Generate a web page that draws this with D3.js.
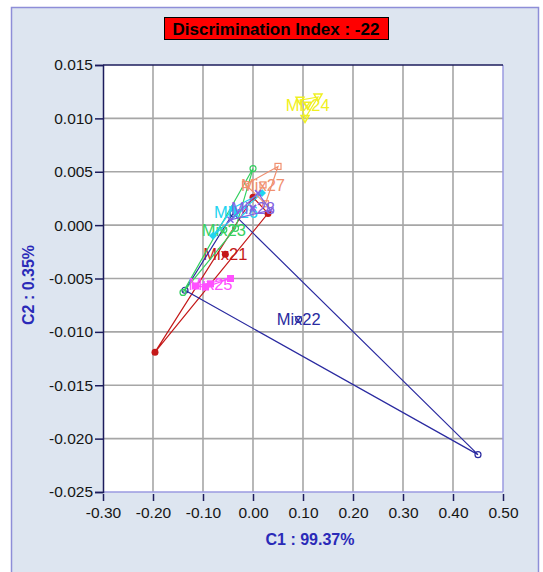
<!DOCTYPE html>
<html>
<head>
<meta charset="utf-8">
<script src="https://cdn.jsdelivr.net/npm/d3@7"></script>
<style>
  body { margin: 0; background: #ffffff; }
  text { font-family: "Liberation Sans", Arial, sans-serif; }
</style>
</head>
<body>
<script>
// chart values
var titleText = "Discrimination Index : -22"
var xTitle = "C1 : 99.37%"
var yTitle = "C2 : 0.35%"
var xTicks = [-0.30, -0.20, -0.10, 0.00, 0.10, 0.20, 0.30, 0.40, 0.50]
var yTicks = [0.015, 0.010, 0.005, 0.000, -0.005, -0.010, -0.015, -0.020, -0.025]

var groupNames = ["Mix21", "Mix22", "Mix23", "Mix24", "Mix25", "Mix26", "Mix27", "Mix28"]
var groupColors = ["#c41818", "#2a2aa0", "#34d060", "#f0f020", "#ff50ff", "#22d4f0", "#f09070", "#8262e2"]
var groupMarkers = ["dot", "ring", "ring", "tri", "sq", "diamond", "opensq", "cross"]
// three replicate points per group: [C1, C2]
var mix21 = [[-0.196, -0.0119], [0.030, 0.0011], [0.000, 0.0026]]
var mix22 = [[0.450, -0.0215], [-0.136, -0.0061], [-0.040, 0.0011]]
var mix23 = [[0.000, 0.0053], [-0.140, -0.0063], [-0.035, -0.0003]]
var mix24 = [[0.104, 0.0100], [0.094, 0.0117], [0.130, 0.0120]]
var mix25 = [[-0.115, -0.0057], [-0.045, -0.0050], [-0.095, -0.0058]]
var mix26 = [[0.018, 0.0030], [-0.080, -0.0010], [-0.040, 0.0016]]
var mix27 = [[0.050, 0.0055], [-0.015, 0.0038], [0.025, 0.0020]]
var mix28 = [[0.010, 0.0030], [-0.045, 0.0005], [0.035, 0.0014]]
var groupPoints = [mix21, mix22, mix23, mix24, mix25, mix26, mix27, mix28]

function drawMarker(g, kind, cx, cy, color) {
  if (kind == "dot") {
    g.append("circle").attr("cx", cx).attr("cy", cy).attr("r", 3.5).attr("fill", color)
  } else if (kind == "ring") {
    g.append("circle").attr("cx", cx).attr("cy", cy).attr("r", 3).attr("fill", "none")
      .attr("stroke", color).attr("stroke-width", 1.2)
  } else if (kind == "sq") {
    g.append("rect").attr("x", cx - 3.5).attr("y", cy - 3.5).attr("width", 7).attr("height", 7).attr("fill", color)
  } else if (kind == "opensq") {
    g.append("rect").attr("x", cx - 3).attr("y", cy - 3).attr("width", 6).attr("height", 6)
      .attr("fill", "none").attr("stroke", color).attr("stroke-width", 1.2)
  } else if (kind == "tri") {
    g.append("path").attr("d", "M" + (cx - 4) + "," + (cy - 3) + "L" + (cx + 4) + "," + (cy - 3) + "L" + cx + "," + (cy + 4) + "Z")
      .attr("fill", "none").attr("stroke", color).attr("stroke-width", 1.5)
  } else if (kind == "diamond") {
    g.append("path").attr("d", "M" + cx + "," + (cy - 4) + "L" + (cx + 4) + "," + cy + "L" + cx + "," + (cy + 4) + "L" + (cx - 4) + "," + cy + "Z")
      .attr("fill", color)
  } else {
    g.append("path").attr("d", "M" + (cx - 3) + "," + (cy - 3) + "L" + (cx + 3) + "," + (cy + 3) + "M" + (cx + 3) + "," + (cy - 3) + "L" + (cx - 3) + "," + (cy + 3))
      .attr("stroke", color).attr("stroke-width", 1.5)
  }
}

function hyphen(fmt) {
  var f = d3.format(fmt)
  return function(d) { return f(d).replace("\u2212", "-") }
}

function main() {
  var width = 543, height = 572
  var svg = d3.select("body").append("svg").attr("width", width).attr("height", height)

  // outer panel
  svg.append("rect").attr("x", 11.5).attr("y", 7.5).attr("width", 527).attr("height", 575)
    .attr("fill", "#dde5f0").attr("stroke", "#8e8ed8").attr("stroke-width", 1.5)

  var left = 103, right = 503, top = 65, bottom = 492
  var x = d3.scaleLinear().domain([-0.30, 0.50]).range([left, right])
  var y = d3.scaleLinear().domain([-0.025, 0.015]).range([bottom, top])

  svg.append("rect").attr("x", left).attr("y", top).attr("width", right - left).attr("height", bottom - top)
    .attr("fill", "#ffffff")

  // grid
  svg.append("g").selectAll("line").data(xTicks.slice(1, -1)).enter().append("line")
    .attr("x1", function(d) { return x(d) }).attr("x2", function(d) { return x(d) })
    .attr("y1", top).attr("y2", bottom).attr("stroke", "#a6a6a6").attr("stroke-width", 1.6)
  svg.append("g").selectAll("line").data(yTicks.slice(1, -1)).enter().append("line")
    .attr("y1", function(d) { return y(d) }).attr("y2", function(d) { return y(d) })
    .attr("x1", left).attr("x2", right).attr("stroke", "#a6a6a6").attr("stroke-width", 1.6)

  // frame
  svg.append("line").attr("x1", right).attr("x2", right).attr("y1", top).attr("y2", bottom).attr("stroke", "#9a9ae0").attr("stroke-width", 1.5)
  svg.append("line").attr("x1", left).attr("x2", right).attr("y1", bottom).attr("y2", bottom).attr("stroke", "#9a9ae0").attr("stroke-width", 1.5)
  svg.append("line").attr("x1", left).attr("x2", right).attr("y1", top).attr("y2", top).attr("stroke", "#1c1c5c").attr("stroke-width", 1.5)

  // axes
  var yAxis = d3.axisLeft(y).tickValues(yTicks).tickFormat(hyphen(".3f")).tickSize(8).tickPadding(2)
  var gy = svg.append("g").attr("transform", "translate(" + left + ",0)").call(yAxis)
  gy.select(".domain").attr("stroke", "#1c1c5c").attr("stroke-width", 1.5)
  gy.selectAll(".tick line").attr("stroke", "#1c1c5c").attr("stroke-width", 1.5)
  gy.selectAll(".tick text").attr("font-size", "15.5px").attr("fill", "#151515")
    .attr("font-family", "'Liberation Sans', Arial, sans-serif")

  var xAxis = d3.axisBottom(x).tickValues(xTicks).tickFormat(hyphen(".2f")).tickSize(7).tickPadding(6)
  var gx = svg.append("g").attr("transform", "translate(0," + (bottom + 2) + ")").call(xAxis)
  gx.select(".domain").remove()
  gx.selectAll(".tick line").attr("stroke", "#1c1c5c").attr("stroke-width", 1.5)
  gx.selectAll(".tick text").attr("font-size", "15.5px").attr("fill", "#151515")
    .attr("font-family", "'Liberation Sans', Arial, sans-serif")

  // axis titles
  svg.append("text").attr("x", 310).attr("y", 545).attr("text-anchor", "middle")
    .attr("font-size", "16px").attr("font-weight", "bold").attr("fill", "#2a2ab8").text(xTitle)
  svg.append("text").attr("transform", "translate(34,285) rotate(-90)").attr("text-anchor", "middle")
    .attr("font-size", "16px").attr("font-weight", "bold").attr("fill", "#2a2ab8").text(yTitle)

  // title box
  svg.append("rect").attr("x", 164.5).attr("y", 17.5).attr("width", 224).attr("height", 22)
    .attr("fill", "#ff0000").attr("stroke", "#000000").attr("stroke-width", 1)
  svg.append("text").attr("x", 276).attr("y", 34.5).attr("text-anchor", "middle")
    .attr("font-size", "17px").attr("font-weight", "bold").attr("fill", "#000000").text(titleText)

  // groups
  var plot = svg.append("g")
  groupPoints.forEach(function(pts, i) {
    var color = groupColors[i]
    var g = plot.append("g")
    var line = d3.line().x(function(d) { return x(d[0]) }).y(function(d) { return y(d[1]) }).curve(d3.curveLinearClosed)
    g.append("path").attr("d", line(pts)).attr("fill", "none").attr("stroke", color).attr("stroke-width", 1.2)
    pts.forEach(function(p) { drawMarker(g, groupMarkers[i], x(p[0]), y(p[1]), color) })
    var cx = d3.mean(pts, function(d) { return d[0] })
    var cy = d3.mean(pts, function(d) { return d[1] })
    g.append("text").attr("x", x(cx)).attr("y", y(cy) + 6).attr("text-anchor", "middle")
      .attr("font-size", "16.5px").attr("fill", color).text(groupNames[i])
    drawMarker(g, groupMarkers[i], x(cx), y(cy), color)
  })
}

main()
</script>
</body>
</html>
